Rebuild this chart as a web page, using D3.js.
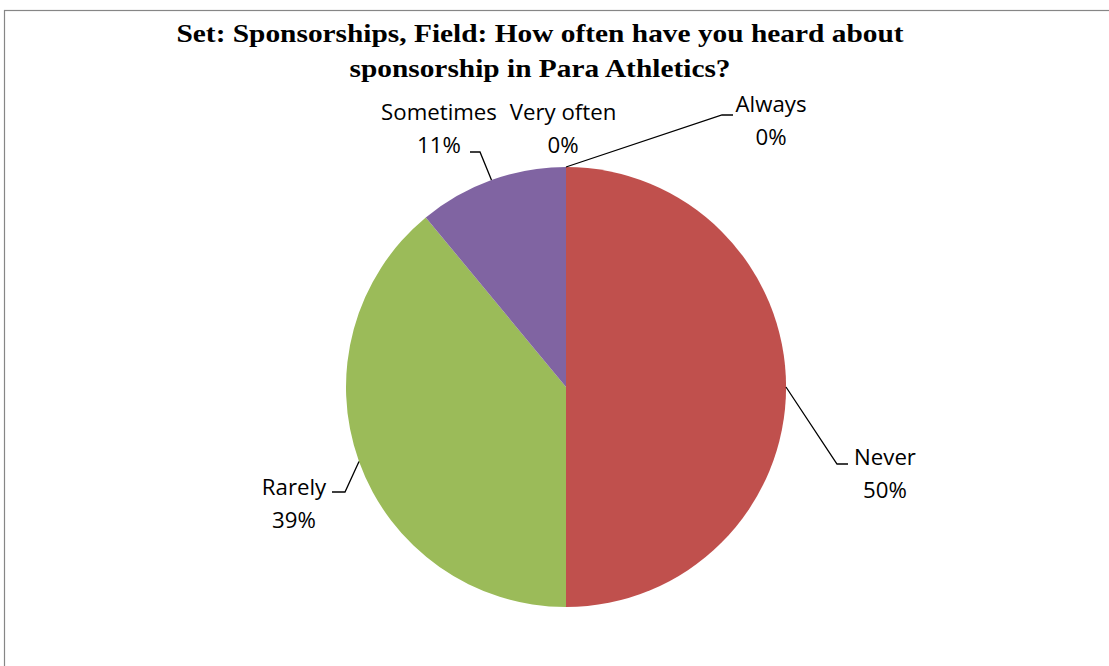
<!DOCTYPE html>
<html>
<head>
<meta charset="utf-8">
<script src="https://cdn.jsdelivr.net/npm/d3@7"></script>
<style>
  html, body { margin: 0; padding: 0; background: #fff; }
  svg { display: block; }
</style>
</head>
<body>
<svg id="chart" width="1109" height="666"></svg>
<script>
// Survey responses, in slice order clockwise from 12 o'clock
const categories = ["Always", "Never", "Rarely", "Sometimes", "Very often"];
const shares = [0, 50, 39, 11, 0];
const sliceColors = ["#4F81BD", "#C0504D", "#9BBB59", "#8064A2", "#4BACC6"];
const titleLines = [
  "Set: Sponsorships, Field: How often have you heard about",
  "sponsorship in Para Athletics?"
];

// Label placement (text centre x, first-line baseline y) and leader elbow
const labelLayout = {
  "Always":     { x: 771, y: 112, elbow: [[733, 115], [722, 115]] },
  "Never":      { x: 885, y: 465, elbow: [[848, 464], [837, 464]] },
  "Rarely":     { x: 294, y: 495, elbow: [[332, 492], [345, 492]] },
  "Sometimes":  { x: 439, y: 120, elbow: [[470, 152], [480, 152]] },
  "Very often": { x: 563, y: 120, elbow: null }
};

const svg = d3.select("#chart");
const cx = 566, cy = 387, R = 220;

// Chart area frame
svg.append("rect")
  .attr("x", 4.5).attr("y", 10.5)
  .attr("width", 1200).attr("height", 700)
  .attr("fill", "#fff")
  .attr("stroke", "#868686")
  .attr("stroke-width", 1.2);

// Title (slightly widened serif)
svg.append("g").selectAll("text")
  .data(titleLines)
  .join("text")
  .attr("transform", (d, i) => `translate(540,${42 + i * 35}) scale(1.13,1)`)
  .attr("text-anchor", "middle")
  .attr("font-family", "'Liberation Serif', 'Times New Roman', serif")
  .attr("font-weight", "bold")
  .attr("font-size", 26)
  .attr("fill", "#000")
  .text(d => d);

const data = categories.map((c, i) => ({ name: c, value: shares[i], color: sliceColors[i] }));

const pie = d3.pie().value(d => d.value).sort(null);
const arcs = pie(data);
const arc = d3.arc().innerRadius(0).outerRadius(R);

const g = svg.append("g").attr("transform", `translate(${cx},${cy})`);

g.selectAll("path")
  .data(arcs.filter(a => a.value > 0))
  .join("path")
  .attr("d", arc)
  .attr("fill", d => d.data.color);

// Point on the rim at a slice's middle angle
function rimPoint(a) {
  const m = (a.startAngle + a.endAngle) / 2;
  return [cx + R * Math.sin(m), cy - R * Math.cos(m)];
}

const total = d3.sum(shares);

// Leader lines
arcs.forEach(a => {
  const lay = labelLayout[a.data.name];
  if (!lay.elbow) return;
  const pts = [...lay.elbow, rimPoint(a)];
  svg.append("path")
    .attr("d", d3.line()(pts))
    .attr("fill", "none")
    .attr("stroke", "#000")
    .attr("stroke-width", 1.3);
});

// Category and percentage labels
arcs.forEach(a => {
  const lay = labelLayout[a.data.name];
  const t = svg.append("text")
    .attr("transform", `translate(${lay.x},${lay.y}) scale(1.06,1)`)
    .attr("text-anchor", "middle")
    .attr("font-family", "'Open Sans', Lato, sans-serif")
    .attr("font-size", 21)
    .attr("fill", "#000");
  t.append("tspan").attr("x", 0).attr("y", 0).text(a.data.name);
  t.append("tspan").attr("x", 0).attr("y", 33)
    .text(Math.round(a.data.value / total * 100) + "%");
});
</script>
</body>
</html>
